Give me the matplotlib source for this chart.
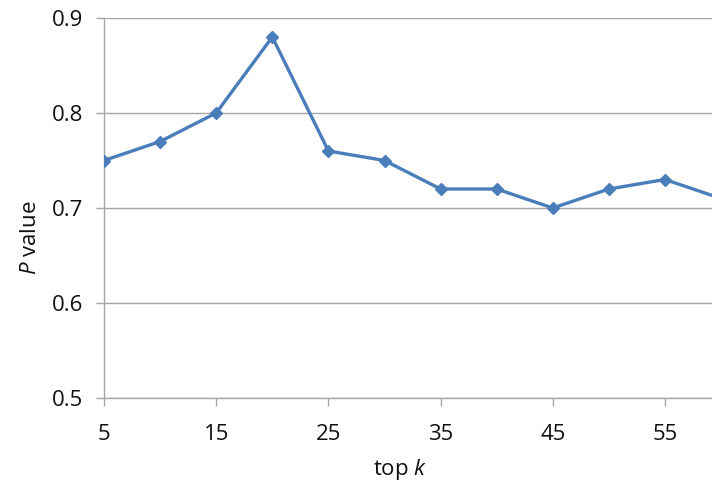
import matplotlib
matplotlib.use('Agg')
import matplotlib.pyplot as plt

# data
top_k = [5, 10, 15, 20, 25, 30, 35, 40, 45, 50, 55, 60]
p_value = [0.75, 0.77, 0.80, 0.88, 0.76, 0.75, 0.72, 0.72, 0.70, 0.72, 0.73, 0.71]
x_ticks = [5, 15, 25, 35, 45, 55]
y_ticks = [0.5, 0.6, 0.7, 0.8, 0.9]

plt.rcParams['font.family'] = ['Open Sans', 'DejaVu Sans']
plt.rcParams['mathtext.fontset'] = 'custom'
plt.rcParams['mathtext.it'] = 'Open Sans:italic'
plt.rcParams['mathtext.rm'] = 'Open Sans'

fig = plt.figure(figsize=(7.12, 4.88), dpi=100)
# the original picture is cut off at the right edge, so the axes run past it
ax = fig.add_axes([104/712, 90/488, 608/712, 380/488])

grid_col = '#a6a6a6'
ax.set_axisbelow(True)
ax.yaxis.grid(True, color=grid_col, linewidth=1.0)
ax.plot(top_k, p_value, '-D', color='#4a7ebb', linewidth=2.4, markersize=6.5,
        clip_on=True, zorder=3)

ax.set_xlim(5, 5 + 608/11.22)
ax.set_ylim(0.5, 0.9)
ax.set_xticks(x_ticks)
ax.set_yticks(y_ticks)
ax.set_yticklabels(['%.1f' % v for v in y_ticks])

for s in ['top', 'right']:
    ax.spines[s].set_visible(False)
for s in ['left', 'bottom']:
    ax.spines[s].set_color(grid_col)
    ax.spines[s].set_linewidth(1.0)

ax.tick_params(axis='both', direction='out', color=grid_col, length=6, width=1,
               labelsize=16, labelcolor='#111111')
ax.tick_params(axis='x', pad=13)
ax.tick_params(axis='y', pad=9)

ax.set_xlabel('top $k$', fontsize=16, color='#111111')
ax.set_ylabel('$P$ value', fontsize=16, color='#111111')
ax.xaxis.set_label_coords((400 - 104) / 608, -(470 - 398) / 380)
ax.yaxis.set_label_coords(-(104 - 30) / 608, (398 - 238) / 380)
ax.xaxis.label.set_va('center')
ax.yaxis.label.set_va('center')

fig.savefig('out.png', dpi=100)
